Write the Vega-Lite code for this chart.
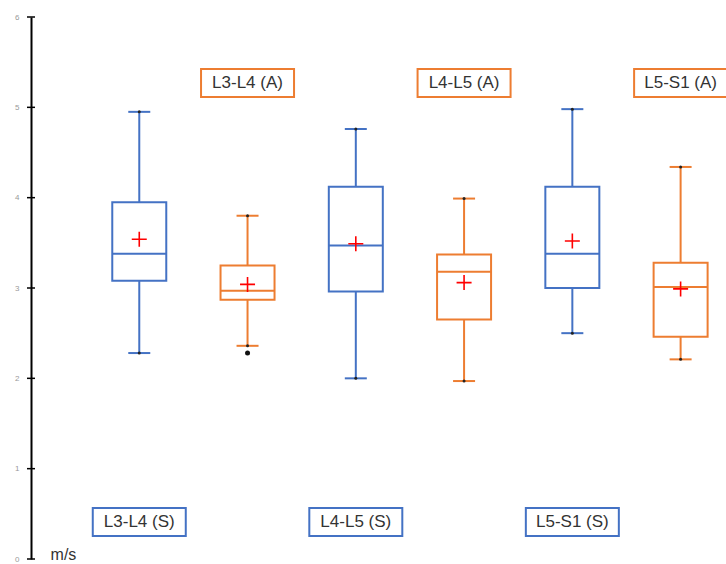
{
  "$schema": "https://vega.github.io/schema/vega-lite/v6.json",
  "width": 694,
  "height": 542,
  "autosize": {"type": "none"},
  "padding": {"left": 31, "top": 17, "right": 1, "bottom": 5},
  "config": {"view": {"stroke": null}},
  "datasets": {
    "boxes": [
      {"pos": 1, "group": "S", "level": "L3-L4", "low": 2.28, "q1": 3.08, "median": 3.38, "q3": 3.95, "high": 4.95, "mean": 3.54},
      {"pos": 2, "group": "A", "level": "L3-L4", "low": 2.36, "q1": 2.87, "median": 2.97, "q3": 3.25, "high": 3.80, "mean": 3.04},
      {"pos": 3, "group": "S", "level": "L4-L5", "low": 2.00, "q1": 2.96, "median": 3.47, "q3": 4.12, "high": 4.76, "mean": 3.49},
      {"pos": 4, "group": "A", "level": "L4-L5", "low": 1.97, "q1": 2.65, "median": 3.18, "q3": 3.37, "high": 3.99, "mean": 3.06},
      {"pos": 5, "group": "S", "level": "L5-S1", "low": 2.50, "q1": 3.00, "median": 3.38, "q3": 4.12, "high": 4.98, "mean": 3.52},
      {"pos": 6, "group": "A", "level": "L5-S1", "low": 2.21, "q1": 2.46, "median": 3.01, "q3": 3.28, "high": 4.34, "mean": 2.99}
    ],
    "outliers": [
      {"pos": 2, "value": 2.28}
    ],
    "labels": [
      {"pos": 1, "group": "S", "value": 0.41, "label": "L3-L4 (S)"},
      {"pos": 2, "group": "A", "value": 5.27, "label": "L3-L4 (A)"},
      {"pos": 3, "group": "S", "value": 0.41, "label": "L4-L5 (S)"},
      {"pos": 4, "group": "A", "value": 5.27, "label": "L4-L5 (A)"},
      {"pos": 5, "group": "S", "value": 0.41, "label": "L5-S1 (S)"},
      {"pos": 6, "group": "A", "value": 5.27, "label": "L5-S1 (A)"}
    ],
    "axisticks": [
      {"pos": 0, "value": 0}, {"pos": 0, "value": 1}, {"pos": 0, "value": 2},
      {"pos": 0, "value": 3}, {"pos": 0, "value": 4}, {"pos": 0, "value": 5},
      {"pos": 0, "value": 6}
    ],
    "unit": [{"pos": 0.3, "value": 0, "label": "m/s"}]
  },
  "encoding": {
    "x": {"type": "quantitative", "scale": {"domain": [0, 6.41], "nice": false, "zero": false, "padding": 0}, "axis": null}
  },
  "layer": [
    {
      "data": {"name": "boxes"},
      "mark": {"type": "rule", "strokeWidth": 2, "opacity": 1},
      "encoding": {
        "x": {"field": "pos", "type": "quantitative"},
        "y": {"field": "low", "type": "quantitative", "scale": {"domain": [0, 6], "nice": false, "padding": 0}, "axis": {"title": null, "values": [0, 1, 2, 3, 4, 5, 6], "format": "d", "domainColor": "black", "domainWidth": 2, "ticks": false, "labelColor": "#999999", "labelFontSize": 8, "labelPadding": 12, "grid": false, "labelFont": "Liberation Sans"}},
        "y2": {"field": "high"},
        "color": {"field": "group", "type": "nominal", "scale": {"domain": ["S", "A"], "range": ["#4472C4", "#ED7D31"]}, "legend": null}
      }
    },
    {
      "data": {"name": "boxes"},
      "mark": {"type": "bar", "fill": "white", "strokeWidth": 2, "size": 54, "opacity": 1},
      "encoding": {
        "x": {"field": "pos", "type": "quantitative"},
        "y": {"field": "q1", "type": "quantitative"},
        "y2": {"field": "q3"},
        "stroke": {"field": "group", "type": "nominal", "scale": {"domain": ["S", "A"], "range": ["#4472C4", "#ED7D31"]}, "legend": null}
      }
    },
    {
      "data": {"name": "boxes"},
      "mark": {"type": "tick", "orient": "horizontal", "size": 54, "thickness": 2, "opacity": 1},
      "encoding": {
        "x": {"field": "pos", "type": "quantitative"},
        "y": {"field": "median", "type": "quantitative"},
        "color": {"field": "group", "type": "nominal", "legend": null}
      }
    },
    {
      "data": {"name": "boxes"},
      "mark": {"type": "tick", "orient": "horizontal", "size": 22, "thickness": 2, "opacity": 1},
      "encoding": {
        "x": {"field": "pos", "type": "quantitative"},
        "y": {"field": "low", "type": "quantitative"},
        "color": {"field": "group", "type": "nominal", "legend": null}
      }
    },
    {
      "data": {"name": "boxes"},
      "mark": {"type": "tick", "orient": "horizontal", "size": 22, "thickness": 2, "opacity": 1},
      "encoding": {
        "x": {"field": "pos", "type": "quantitative"},
        "y": {"field": "high", "type": "quantitative"},
        "color": {"field": "group", "type": "nominal", "legend": null}
      }
    },
    {
      "data": {"name": "boxes"},
      "mark": {"type": "point", "filled": true, "color": "#222222", "size": 9, "opacity": 1},
      "encoding": {
        "x": {"field": "pos", "type": "quantitative"},
        "y": {"field": "low", "type": "quantitative"}
      }
    },
    {
      "data": {"name": "boxes"},
      "mark": {"type": "point", "filled": true, "color": "#222222", "size": 9, "opacity": 1},
      "encoding": {
        "x": {"field": "pos", "type": "quantitative"},
        "y": {"field": "high", "type": "quantitative"}
      }
    },
    {
      "data": {"name": "boxes"},
      "mark": {"type": "point", "shape": "M-1,0H1M0,-1V1", "filled": false, "stroke": "#FF0000", "strokeWidth": 1.6, "size": 225, "opacity": 1},
      "encoding": {
        "x": {"field": "pos", "type": "quantitative"},
        "y": {"field": "mean", "type": "quantitative"}
      }
    },
    {
      "data": {"name": "outliers"},
      "mark": {"type": "point", "filled": true, "color": "#111111", "size": 25, "opacity": 1},
      "encoding": {
        "x": {"field": "pos", "type": "quantitative"},
        "y": {"field": "value", "type": "quantitative"}
      }
    },
    {
      "data": {"name": "labels"},
      "mark": {"type": "point", "shape": "M-1,-0.3H1V0.3H-1Z", "filled": false, "fill": "white", "fillOpacity": 1, "strokeWidth": 2, "size": 8649, "opacity": 1},
      "encoding": {
        "x": {"field": "pos", "type": "quantitative"},
        "y": {"field": "value", "type": "quantitative"},
        "stroke": {"field": "group", "type": "nominal", "legend": null}
      }
    },
    {
      "data": {"name": "labels"},
      "mark": {"type": "text", "fontSize": 17, "font": "Liberation Sans", "color": "#333333", "baseline": "middle", "align": "center"},
      "encoding": {
        "x": {"field": "pos", "type": "quantitative"},
        "y": {"field": "value", "type": "quantitative"},
        "text": {"field": "label"}
      }
    },
    {
      "data": {"name": "axisticks"},
      "mark": {"type": "tick", "orient": "horizontal", "size": 8, "thickness": 1.5, "color": "black", "opacity": 1},
      "encoding": {
        "x": {"field": "pos", "type": "quantitative"},
        "y": {"field": "value", "type": "quantitative"}
      }
    },
    {
      "data": {"name": "unit"},
      "mark": {"type": "text", "fontSize": 16, "font": "Liberation Sans", "color": "#333333", "baseline": "middle", "align": "center", "dy": -4},
      "encoding": {
        "x": {"field": "pos", "type": "quantitative"},
        "y": {"field": "value", "type": "quantitative"},
        "text": {"field": "label"}
      }
    }
  ]
}
